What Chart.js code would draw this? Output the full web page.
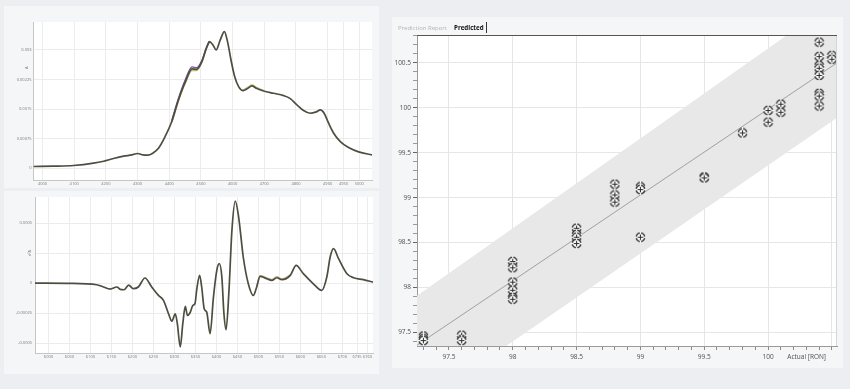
<!DOCTYPE html>
<html>
<head>
<meta charset="utf-8">
<script src="https://cdn.jsdelivr.net/npm/chart.js@4.4.1/dist/chart.umd.min.js"></script>
<style>
  html, body { margin: 0; padding: 0; }
  body { width: 850px; height: 389px; background: #edeef1; position: relative; overflow: hidden; font-family: 'Open Sans', 'DejaVu Sans', sans-serif; }
  .panel { position: absolute; background: #f5f6f7; }
  canvas { position: absolute; }
  .tab { position: absolute; line-height: 8px; white-space: nowrap; }
</style>
</head>
<body>
<div class="panel" style="left:4px;top:6px;width:375px;height:182px"></div>
<div class="panel" style="left:4px;top:191px;width:375px;height:183px"></div>
<div class="panel" style="left:392px;top:17px;width:451px;height:351px"></div>

<canvas id="spec" width="375" height="182" style="left:4px;top:6px"></canvas>
<canvas id="deriv" width="375" height="183" style="left:4px;top:191px"></canvas>
<canvas id="pred" width="451" height="351" style="left:392px;top:17px"></canvas>

<div class="tab" style="left:398px;top:24px;font-size:6px;color:#b4b4b4">Prediction Report</div>
<div class="tab" style="left:454px;top:24px;font-size:6.2px;font-weight:bold;color:#111">Predicted</div>
<div style="position:absolute;left:486px;top:22px;width:1px;height:11px;background:#333"></div>

<script>
// ---------------- DATA ----------------
// Top-left: absorbance spectra
const topWave = [3972, 4035, 4098, 4161, 4193, 4224, 4256, 4282, 4300, 4317,
                 4332, 4348, 4366, 4387, 4408, 4429, 4451, 4472, 4487, 4503,
                 4517, 4527, 4538, 4548, 4561, 4574, 4584, 4595, 4606, 4619,
                 4633, 4647, 4661, 4675, 4698, 4729, 4761, 4782, 4803, 4824,
                 4845, 4864, 4877, 4889, 4903, 4919, 4940, 4966, 4998, 5040];
const topAbs = [0.000042, 0.000051, 0.000068, 0.000127, 0.000177, 0.000245, 0.000304, 0.000338, 0.000372, 0.000338,
                0.00033, 0.00038, 0.000507, 0.000803, 0.001183, 0.001732, 0.002197, 0.002518, 0.00251, 0.002704,
                0.003042, 0.003211, 0.003127, 0.003, 0.003254, 0.003465, 0.003211, 0.002746, 0.002341, 0.00207,
                0.001969, 0.00202, 0.002087, 0.002028, 0.00196, 0.001901, 0.001842, 0.001766, 0.001606, 0.001462,
                0.001394, 0.001428, 0.001479, 0.001394, 0.001141, 0.000887, 0.000676, 0.000524, 0.000414, 0.000338];
const topShoulderWave = [4408, 4429, 4451, 4472, 4487, 4503, 4517, 4527];
const topPurpleAbs = [0.00121, 0.00177, 0.00225, 0.00257, 0.00255, 0.00273, 0.00305, 0.003215];
const topYellowAbs = [0.00116, 0.0017, 0.00216, 0.00248, 0.00248, 0.00268, 0.00303, 0.0032];
const topBumpWave = [4633, 4647, 4661, 4675, 4698];
const topBumpAbs = [0.00199, 0.00205, 0.00212, 0.00205, 0.00198];
const topXTicks = [4000, 4100, 4200, 4300, 4400, 4500, 4600, 4700, 4800, 4900, 4950, 5000];
const topXLabels = ['4000', '4100', '4200', '4300', '4400', '4500', '4600', '4700', '4800', '4900', '4950', '5000'];
const topYTicks = [0, 0.00075, 0.0015, 0.00225, 0.003];
const topYLabels = ['0', '0.00075', '0.0015', '0.00225', '0.003'];

// Bottom-left: derivative spectra
const botWave = [5968, 6044, 6115, 6131, 6147, 6163, 6171, 6180, 6191, 6202,
                 6214, 6230, 6246, 6262, 6274, 6286, 6294, 6302, 6307, 6314,
                 6320, 6326, 6331, 6337, 6344, 6349, 6353, 6360, 6365, 6371,
                 6377, 6385, 6393, 6401, 6407, 6413, 6418, 6423, 6430, 6437,
                 6445, 6453, 6464, 6476, 6488, 6496, 6504, 6520, 6532, 6544,
                 6556, 6576, 6590, 6607, 6631, 6651, 6663, 6671, 6679, 6691,
                 6711, 6727, 6750, 6773];
const botDer = [0, -0.0000028, -0.000014, -0.000033, -0.00005, -0.000033, -0.000053, -0.000056, -0.000017, -0.000047,
                -0.000033, 0.000042, -0.000033, -0.000103, -0.000144, -0.000256, -0.000317, -0.000256, -0.000339, -0.000533,
                -0.000339, -0.000194, -0.000269, -0.00025, -0.000186, -0.000172, -0.000061, 0.000064, -0.000033, -0.000214,
                -0.000242, -0.000422, -0.000117, 0.000106, 0.000161, 0.00005, -0.000256, -0.000389, -0.000061, 0.000439,
                0.000683, 0.00055, 0.000217, -0.000006, -0.000103, -0.000033, 0.000056, 0.000036, 0.000022, 0.000044,
                0.000028, 0.000064, 0.000147, 0.000078, -0.000006, -0.000061, 0.00005, 0.000217, 0.000286, 0.000203,
                0.000078, 0.000044, 0.000028, 0.000008];
const botLightWave = [6496, 6504, 6520, 6532, 6544, 6556, 6576];
const botLightDer = [-0.000025, 0.000062, 0.000043, 0.00003, 0.000052, 0.000035, 0.000068];
const botXTicks = [6000, 6050, 6100, 6150, 6200, 6250, 6300, 6350, 6400, 6450, 6500, 6550, 6600, 6650, 6700, 6735, 6760];
const botXLabels = ['6000', '6050', '6100', '6150', '6200', '6250', '6300', '6350', '6400', '6450', '6500', '6550', '6600', '6650', '6700', '6735', '6760'];
const botYTicks = [-0.0005, -0.00025, 0, 0.00025, 0.0005];
const botYLabels = ['-0.0005', '-0.00025', '0', '', '0.0005'];

// Right: predicted vs actual RON
const actualRON = [100.4, 100.4, 100.4, 100.4, 100.4, 100.4, 100.4, 100.4,
                   100.5, 100.5, 100.0, 100.0, 100.1, 100.1, 99.8, 99.5, 99.5,
                   98.8, 98.8, 98.8, 99.0, 99.0, 99.0,
                   98.5, 98.5, 98.5, 98.5,
                   98.0, 98.0, 98.0, 98.0, 98.0, 98.0,
                   97.3, 97.3, 97.3, 97.6, 97.6];
const predictedRON = [100.73, 100.57, 100.47, 100.44, 100.36, 100.16, 100.13, 100.02,
                      100.58, 100.54, 99.97, 99.84, 100.04, 99.95, 99.72, 99.23, 99.22,
                      99.15, 99.03, 98.95, 99.12, 99.09, 98.56,
                      98.66, 98.59, 98.56, 98.49,
                      98.29, 98.22, 98.06, 97.97, 97.89, 97.87,
                      97.46, 97.43, 97.41, 97.47, 97.41];
const lineActual = [97.25, 100.54];
const fitPredicted = [97.36, 100.5];
const bandUpper = [97.91, 101.2];
const bandLower = [96.665, 99.89];
const xMajor = [97.5, 98, 98.5, 99, 99.5, 100];
const xMajorLabels = ['97.5', '98', '98.5', '99', '99.5', '100'];
const yMajor = [97.5, 98, 98.5, 99, 99.5, 100, 100.5];
const yMajorLabels = ['97.5', '98', '98.5', '99', '99.5', '100', '100.5'];
const xTitle = 'Actual [RON]';

// ---------------- HELPERS ----------------
const FONT = "'Open Sans', 'DejaVu Sans', sans-serif";
const zip = (xs, ys) => xs.map((x, i) => ({ x: x, y: ys[i] }));
function fixBox(w, h) {
  return s => {
    if (w != null) s.width = w;
    if (h != null) s.height = h;
    s.paddingTop = 0; s.paddingBottom = 0; s.paddingLeft = 0; s.paddingRight = 0;
  };
}
function setTicks(vals) { return s => { s.ticks = vals.map(v => ({ value: v })); }; }
const whiteArea = {
  id: 'whiteArea',
  beforeDraw(c) {
    const a = c.chartArea, ctx = c.ctx;
    ctx.save(); ctx.fillStyle = '#ffffff';
    ctx.fillRect(a.left, a.top, a.right - a.left, a.bottom - a.top);
    ctx.restore();
  }
};
function rotatedLabel(text, dx, valueFn) {
  return {
    id: 'ylab_' + text,
    afterDraw(c) {
      const ctx = c.ctx, y = c.scales.y.getPixelForValue(valueFn);
      ctx.save();
      ctx.font = '4px ' + FONT; ctx.fillStyle = '#777';
      ctx.textAlign = 'center'; ctx.textBaseline = 'middle';
      ctx.translate(c.chartArea.left - dx, y); ctx.rotate(-Math.PI / 2);
      ctx.fillText(text, 0, 0);
      ctx.restore();
    }
  };
}

function spectrumLine(data, color, width) {
  return { data: data, borderColor: color, borderWidth: width, pointRadius: 0, fill: false,
           cubicInterpolationMode: 'monotone' };
}

function smallAxes(xMin, xMax, xTicks, xLabels, yMin, yMax, yTicks, yLabels, yW, xH, xPad, yPad) {
  return {
    x: {
      type: 'linear', min: xMin, max: xMax,
      afterBuildTicks: setTicks(xTicks), afterFit: fixBox(null, xH),
      grid: { color: '#ececec', drawTicks: false },
      border: { color: '#c6c6c6' },
      ticks: { autoSkip: false, maxRotation: 0, minRotation: 0, padding: xPad,
               font: { size: 4, family: FONT }, color: '#7a7a7a',
               callback: (v, i) => xLabels[i] }
    },
    y: {
      type: 'linear', min: yMin, max: yMax,
      afterBuildTicks: setTicks(yTicks), afterFit: fixBox(yW, null),
      grid: { color: '#ececec', drawTicks: false },
      border: { color: '#c6c6c6' },
      ticks: { autoSkip: false, padding: yPad,
               font: { size: 4, family: FONT }, color: '#7a7a7a',
               callback: (v, i) => yLabels[i] }
    }
  };
}

const baseOpts = {
  responsive: false, animation: false, events: [],
  plugins: { legend: { display: false }, tooltip: { enabled: false } }
};

// ---------------- TOP-LEFT SPECTRUM ----------------
new Chart(document.getElementById('spec'), {
  type: 'line',
  data: {
    datasets: [
      Object.assign(spectrumLine(zip(topWave, topAbs), '#4d4d40', 1.7), { order: 0 }),
      Object.assign(spectrumLine(zip(topShoulderWave, topPurpleAbs), '#7a52a6', 1.4), { order: 1 }),
      Object.assign(spectrumLine(zip(topShoulderWave, topYellowAbs), '#bcc46c', 1.4), { order: 1 }),
      Object.assign(spectrumLine(zip(topBumpWave, topBumpAbs), '#c9c98a', 1.4), { order: 1 })
    ]
  },
  options: Object.assign({}, baseOpts, {
    layout: { padding: { left: 0, top: 16, right: 7, bottom: 0 } },
    scales: smallAxes(3970, 5040, topXTicks, topXLabels, -0.0003, 0.00371, topYTicks, topYLabels, 29, 8, 1.5, 1.5)
  }),
  plugins: [whiteArea, rotatedLabel('A', 6, 0.00255)]
});

// ---------------- BOTTOM-LEFT DERIVATIVE ----------------
new Chart(document.getElementById('deriv'), {
  type: 'line',
  data: {
    datasets: [
      Object.assign(spectrumLine(zip(botWave, botDer), '#4d4d40', 1.7), { order: 0 }),
      Object.assign(spectrumLine(zip(botLightWave, botLightDer), '#c2b58a', 1.4), { order: 1 })
    ]
  },
  options: Object.assign({}, baseOpts, {
    layout: { padding: { left: 0, top: 6, right: 6, bottom: 0 } },
    scales: smallAxes(5968, 6773, botXTicks, botXLabels, -0.000583, 0.000717, botYTicks, botYLabels, 31, 21, 1.5, 3)
  }),
  plugins: [whiteArea, rotatedLabel('d²A', 5, 0.00025)]
});

// ---------------- RIGHT: PREDICTED vs ACTUAL ----------------
const marker = document.createElement('canvas');
marker.width = 11; marker.height = 11;
(function () {
  const g = marker.getContext('2d');
  g.fillStyle = '#ffffff';
  g.beginPath(); g.arc(5.5, 5.5, 4.2, 0, 2 * Math.PI); g.fill();
  g.strokeStyle = '#2e2e2e'; g.lineWidth = 1.5; g.stroke();
  g.strokeStyle = '#ffffff'; g.lineWidth = 1.3;
  g.beginPath(); g.moveTo(5.5, 0); g.lineTo(5.5, 11); g.moveTo(0, 5.5); g.lineTo(11, 5.5); g.stroke();
  g.strokeStyle = '#2e2e2e'; g.lineWidth = 1.1;
  g.beginPath(); g.moveTo(5.5, 2.7); g.lineTo(5.5, 8.3); g.moveTo(2.7, 5.5); g.lineTo(8.3, 5.5); g.stroke();
})();

const xTickVals = []; for (let k = 973; k <= 1005; k++) xTickVals.push(k / 10);
const yTickVals = []; for (let k = 974; k <= 1008; k++) yTickVals.push(k / 10);

const framePlugin = {
  id: 'frame',
  afterDraw(c) {
    const a = c.chartArea, ctx = c.ctx;
    ctx.save();
    ctx.strokeStyle = '#d6d6d6'; ctx.lineWidth = 1;
    ctx.beginPath(); ctx.moveTo(a.right - 0.5, a.top); ctx.lineTo(a.right - 0.5, a.bottom); ctx.stroke();
    ctx.strokeStyle = '#555'; ctx.lineWidth = 1;
    ctx.beginPath(); ctx.moveTo(a.left, a.top + 0.5); ctx.lineTo(a.right, a.top + 0.5); ctx.stroke();
    ctx.font = '6.5px ' + FONT; ctx.fillStyle = '#505050';
    ctx.textAlign = 'right'; ctx.textBaseline = 'middle';
    ctx.fillText(xTitle, a.right - 11, a.bottom + 11.5);
    ctx.restore();
  }
};

new Chart(document.getElementById('pred'), {
  type: 'line',
  data: {
    datasets: [
      { data: zip(actualRON, predictedRON), showLine: false, pointStyle: marker, pointRadius: 5, order: 0 },
      { data: zip(lineActual, fitPredicted), borderColor: '#8e8e8e', borderWidth: 0.8, pointRadius: 0, fill: false, order: 1 },
      { data: zip(lineActual, bandUpper), borderWidth: 0, borderColor: 'rgba(0,0,0,0)', pointRadius: 0,
        backgroundColor: '#e8e8e8', fill: '+1', order: 2 },
      { data: zip(lineActual, bandLower), borderWidth: 0, borderColor: 'rgba(0,0,0,0)', pointRadius: 0, fill: false, order: 2 }
    ]
  },
  options: Object.assign({}, baseOpts, {
    layout: { padding: { left: 0, top: 18, right: 5, bottom: 0 } },
    scales: {
      x: {
        type: 'linear', min: 97.25, max: 100.54,
        afterBuildTicks: setTicks(xTickVals), afterFit: fixBox(null, 22),
        grid: {
          color: c => (xMajor.includes(c.tick.value) || c.tick.value === 100.5) ? '#e6e6e6' : 'rgba(0,0,0,0)',
          tickColor: '#8a8a8a', tickLength: 4
        },
        border: { color: '#9a9a9a' },
        ticks: { autoSkip: false, maxRotation: 0, minRotation: 0, padding: 3,
                 font: { size: 6.5, family: FONT }, color: '#505050',
                 callback: v => { const i = xMajor.indexOf(v); return i >= 0 ? xMajorLabels[i] : ''; } }
      },
      y: {
        type: 'linear', min: 97.35, max: 100.81,
        afterBuildTicks: setTicks(yTickVals), afterFit: fixBox(25, null),
        grid: {
          color: c => yMajor.includes(c.tick.value) ? '#e6e6e6' : 'rgba(0,0,0,0)',
          tickColor: c => yMajor.includes(c.tick.value) ? '#666' : '#9a9a9a', tickLength: 4
        },
        border: { color: '#9a9a9a' },
        ticks: { autoSkip: false, padding: 2,
                 font: { size: 6.5, family: FONT }, color: '#505050',
                 callback: v => { const i = yMajor.indexOf(v); return i >= 0 ? yMajorLabels[i] : ''; } }
      }
    }
  }),
  plugins: [whiteArea, framePlugin]
});
</script>
</body>
</html>
